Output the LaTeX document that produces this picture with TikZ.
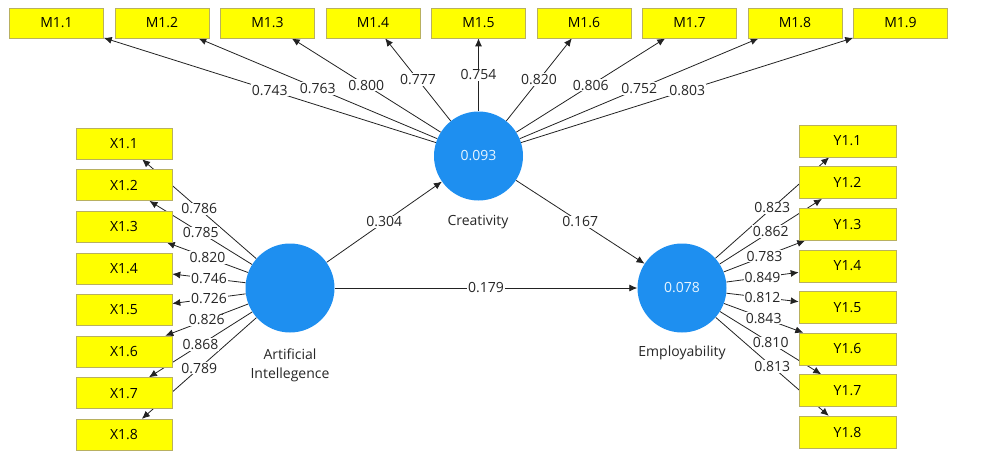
\documentclass[tikz,border=0pt]{standalone}
\usepackage{fontspec}
\setmainfont{Open Sans}
\usetikzlibrary{arrows.meta,backgrounds}
\definecolor{boxyellow}{HTML}{FFFF00}
\definecolor{boxedge}{HTML}{B8B060}
\definecolor{lvblue}{HTML}{1E8FF0}
\definecolor{lvtext}{HTML}{E8F6FF}
\definecolor{linecol}{HTML}{222222}
\newcommand{\fsz}{\fontsize{14}{19}\selectfont}
\tikzset{
  ind/.style={draw=boxedge, line width=0.6pt, fill=boxyellow, minimum width=95pt, minimum height=31pt, inner sep=0pt, font=\fsz},
  lv/.style={circle, draw=none, fill=lvblue, minimum size=89pt, inner sep=0pt, text=lvtext, font=\fsz},
  lvname/.style={font=\fsz, text=black!85, align=center},
  lbl/.style={fill=white, inner sep=1pt, font=\fsz, text=black!85},
  conn/.style={-{Latex[length=8pt,width=7pt]}, line width=0.8pt, draw=linecol},
}
\begin{document}
\begin{tikzpicture}[x=1pt,y=-1pt]
\useasboundingbox (0,0) rectangle (1006,453);
% latent variables
\node[lv] (C) at (478.5,156) {0.093};
\node[lv] (AI) at (290,288) {};
\node[lv] (E) at (682,288) {0.078};
\node[lvname] (Cn) at (478,222) {Creativity};
\node[lvname] (AIn) at (290,365) {Artificial\\Intellegence};
\node[lvname] (En) at (682,353) {Employability};
% indicators
\foreach \i in {1,...,9} {
  \node[ind, minimum width=94pt, minimum height=30pt] (M\i) at ({56.5+105.5*(\i-1)},23) {M1.\i};
}
\foreach \i in {1,...,8} {
  \node[ind, minimum width=96pt] (X\i) at (124,{143.5+41.6*(\i-1)}) {X1.\i};
  \node[ind, minimum width=97pt, minimum height=32pt] (Y\i) at (847.5,{141+41.6*(\i-1)}) {Y1.\i};
}
% connectors (behind boxes)
\begin{pgfonlayer}{background}
\foreach \i in {1,...,9} { \draw[conn] (C) -- (M\i); }
\foreach \i in {1,...,8} { \draw[conn] (AI) -- (X\i); \draw[conn] (E) -- (Y\i); }
\draw[conn] (AI) -- (C);
\draw[conn] (AI) -- (E);
\draw[conn] (C) -- (E);
\end{pgfonlayer}
% labels
\foreach \i/\v in {1/0.743,2/0.763,3/0.800,4/0.777,5/0.754,6/0.820,7/0.806,8/0.752,9/0.803} {
  \path (C) -- (M\i) node[midway,lbl] {\v};
}
\foreach \i/\v in {1/0.786,2/0.785,3/0.820,4/0.746,5/0.726,6/0.826,7/0.868,8/0.789} {
  \path (AI) -- (X\i) node[midway,lbl] {\v};
}
\foreach \i/\v in {1/0.823,2/0.862,3/0.783,4/0.849,5/0.812,6/0.843,7/0.810,8/0.813} {
  \path (E) -- (Y\i) node[midway,lbl] {\v};
}
\path (AI) -- (C) node[midway,lbl] {0.304};
\path (AI) -- (E) node[midway,lbl] {0.179};
\path (C) -- (E) node[midway,lbl] {0.167};
\end{tikzpicture}
\end{document}
